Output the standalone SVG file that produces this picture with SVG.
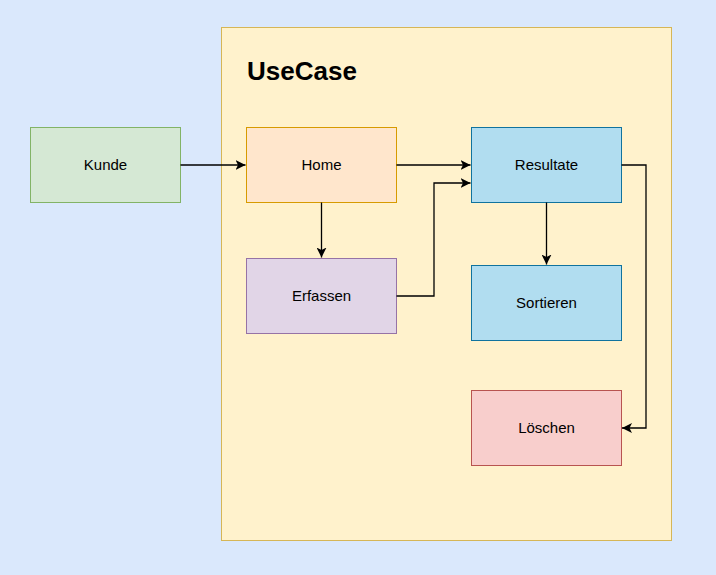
<svg xmlns="http://www.w3.org/2000/svg" width="716" height="575" viewBox="0 0 716 575">
<style>
.lbl{font-family:"Liberation Sans",Arial,sans-serif;font-size:15px;fill:#000;text-anchor:middle;dominant-baseline:central}
.edge{fill:none;stroke:#000;stroke-width:1.3}
</style>
<defs>
<marker id="ah" viewBox="0 0 10 10" refX="10" refY="5" markerWidth="10" markerHeight="10" markerUnits="userSpaceOnUse" orient="auto">
<path d="M0,0 L10,5 L0,10 L2.5,5 Z" fill="#000"/>
</marker>
</defs>
<rect x="0" y="0" width="716" height="575" fill="#dae8fc"/>
<g id="usecase">
<rect x="221.5" y="27.5" width="450" height="513" fill="#fff2cc" stroke="#d6b656"/>
<text x="247" y="80" font-family="'Liberation Sans',Arial,sans-serif" font-size="26" font-weight="bold">UseCase</text>
</g>
<g id="kunde"><rect x="30.5" y="127.5" width="150" height="75" fill="#d5e8d4" stroke="#82b366"/><text class="lbl" x="105.5" y="164">Kunde</text></g>
<g id="home"><rect x="246.5" y="127.5" width="150" height="75" fill="#ffe6cc" stroke="#d79b00"/><text class="lbl" x="321.5" y="164">Home</text></g>
<g id="resultate"><rect x="471.5" y="127.5" width="150" height="75" fill="#b1ddf0" stroke="#10739e"/><text class="lbl" x="546.5" y="164">Resultate</text></g>
<g id="erfassen"><rect x="246.5" y="258.5" width="150" height="75" fill="#e1d5e7" stroke="#9673a6"/><text class="lbl" x="321.5" y="295">Erfassen</text></g>
<g id="sortieren"><rect x="471.5" y="265.5" width="150" height="75" fill="#b1ddf0" stroke="#10739e"/><text class="lbl" x="546.5" y="302">Sortieren</text></g>
<g id="loeschen"><rect x="471.5" y="390.5" width="150" height="75" fill="#f8cecc" stroke="#b85450"/><text class="lbl" x="546.5" y="427">Löschen</text></g>
<g id="connectors">
<path class="edge" d="M180.5,165 L245.5,165" marker-end="url(#ah)"/>
<path class="edge" d="M396.5,165 L470.5,165" marker-end="url(#ah)"/>
<path class="edge" d="M321.5,202.5 L321.5,257.5" marker-end="url(#ah)"/>
<path class="edge" d="M396.5,296 L434,296 L434,183 L470.5,183" marker-end="url(#ah)"/>
<path class="edge" d="M546.5,202.5 L546.5,264.5" marker-end="url(#ah)"/>
<path class="edge" d="M621.5,165 L646,165 L646,428 L622,428" marker-end="url(#ah)"/>
</g>
</svg>
